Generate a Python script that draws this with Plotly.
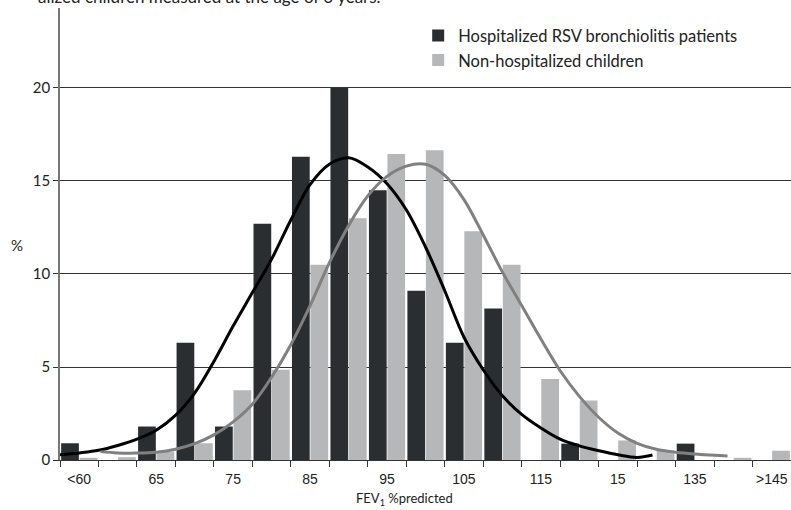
import plotly.graph_objects as go

categories = ["<60", "60", "65", "70", "75", "80", "85", "90", "95", "100",
              "105", "110", "115", "120", "125", "130", "135", "140", ">145"]
tick_labels = ["<60", "", "65", "", "75", "", "85", "", "95", "", "105", "",
               "115", "", "15", "", "135", "", ">145"]
hospitalized = [0.9, 0, 1.8, 6.3, 1.8, 12.7, 16.3, 20.0, 14.5, 9.1, 6.3, 8.15,
                0, 0.88, 0, 0, 0.88, 0, 0]
non_hospitalized = [0.12, 0.15, 0.45, 0.9, 3.75, 4.85, 10.5, 13.0, 16.45, 16.65,
                    12.3, 10.5, 4.35, 3.2, 1.05, 0.52, 0, 0.12, 0.5]

# fitted curves (x in category units)
hosp_curve_x = [-0.55, 0.0, 0.5, 1.0, 1.5, 2.0, 2.5, 3.0, 3.5, 4.0, 4.5, 5.0, 5.5,
                6.0, 6.5, 7.0, 7.5, 8.0, 8.5, 9.0, 9.5, 10.0, 10.5, 11.0, 11.5,
                12.0, 12.5, 13.0, 13.5, 14.0, 14.5, 14.9]
hosp_curve_y = [0.27, 0.38, 0.52, 0.78, 1.12, 1.6, 2.4, 3.6, 5.3, 7.2, 9.0, 10.8,
                12.9, 14.8, 15.9, 16.25, 15.75, 14.85, 13.45, 11.45, 9.1, 6.6,
                4.85, 3.45, 2.45, 1.72, 1.12, 0.76, 0.5, 0.28, 0.14, 0.27]
non_curve_x = [0.55, 1.0, 1.5, 2.0, 2.5, 3.0, 3.5, 4.0, 4.5, 5.0, 5.5, 6.0, 6.5,
               7.0, 7.5, 8.0, 8.5, 9.0, 9.5, 10.0, 10.5, 11.0, 11.5, 12.0, 12.5,
               13.0, 13.5, 14.0, 14.5, 15.0, 15.5, 16.0, 16.5, 16.85]
non_curve_y = [0.45, 0.38, 0.37, 0.42, 0.58, 0.88, 1.35, 2.05, 3.0, 4.45, 6.2, 8.3,
               10.6, 12.6, 14.2, 15.25, 15.8, 15.9, 15.3, 14.0, 12.1, 10.1, 8.3,
               6.5, 4.8, 3.42, 2.3, 1.45, 0.9, 0.58, 0.42, 0.32, 0.25, 0.22]

idx = list(range(len(categories)))
label_idx = [i for i, t in enumerate(tick_labels) if t]
label_txt = [tick_labels[i] for i in label_idx]

DARK = "#2b2e31"
LIGHT = "#b6b7b9"
TXT = "Lato"

fig = go.Figure()
fig.add_trace(go.Bar(x=idx, y=hospitalized, name="Hospitalized RSV bronchiolitis patients",
                     marker=dict(color=DARK, line=dict(width=0))))
fig.add_trace(go.Bar(x=idx, y=non_hospitalized, name="Non-hospitalized children",
                     marker=dict(color=LIGHT, line=dict(width=0))))
fig.add_trace(go.Scatter(x=hosp_curve_x, y=hosp_curve_y, mode="lines",
                         line=dict(color="#000000", width=3, shape="spline", smoothing=1),
                         showlegend=False, hoverinfo="skip"))
fig.add_trace(go.Scatter(x=non_curve_x, y=non_curve_y, mode="lines",
                         line=dict(color="#808080", width=3, shape="spline", smoothing=1),
                         showlegend=False, hoverinfo="skip"))

fig.update_layout(
    width=791, height=510,
    margin=dict(l=60, r=0, t=8, b=50),
    paper_bgcolor="white", plot_bgcolor="white",
    barmode="group", bargap=0.04, bargroupgap=0.04,
    font=dict(family=TXT, size=14, color="#222"),
    legend=dict(x=0.49, y=0.977, xanchor="left", yanchor="top",
                font=dict(family=TXT, size=16.5, color="#222"),
                bgcolor="rgba(0,0,0,0)", tracegroupgap=0),
    xaxis=dict(
        range=[-0.5, 18.5], tickmode="array", tickvals=label_idx, ticktext=label_txt,
        ticks="", showgrid=False, zeroline=False, ticklabelstandoff=6,
        showline=True, linecolor="#333", linewidth=1,
        tickfont=dict(family="Liberation Sans", size=14, color="#222"),
        minor=dict(tickmode="array", tickvals=[i - 0.5 for i in range(len(categories) + 1)],
                   ticks="outside", ticklen=6, tickcolor="#333", tickwidth=1, showgrid=False),
    ),
    yaxis=dict(
        range=[0, 24.3], tickmode="array", tickvals=[0, 5, 10, 15, 20],
        ticks="outside", ticklen=5, tickcolor="#333",
        showgrid=True, gridcolor="#333", gridwidth=1, zeroline=False,
        showline=True, linecolor="#777", linewidth=1.5,
        tickfont=dict(family=TXT, size=15, color="#222"),
    ),
    annotations=[
        dict(text="%", x=(17 - 60) / 731, y=(460 - 245) / 452, xref="paper", yref="paper",
             xanchor="center", yanchor="middle", showarrow=False,
             font=dict(family=TXT, size=15, color="#222")),
        dict(text="FEV<sub>1</sub> %predicted", x=(404 - 60) / 731, y=(460 - 499) / 452,
             xref="paper", yref="paper", xanchor="center", yanchor="middle", showarrow=False,
             font=dict(family=TXT, size=13, color="#222")),
        dict(text="alized children measured at the age of 6 years.",
             x=(383 - 60) / 731, y=1 - 1 / 452, xref="paper", yref="paper",
             xanchor="right", yanchor="bottom", showarrow=False,
             font=dict(family=TXT, size=17, color="#222")),
    ],
)

fig.write_html("out.html")
